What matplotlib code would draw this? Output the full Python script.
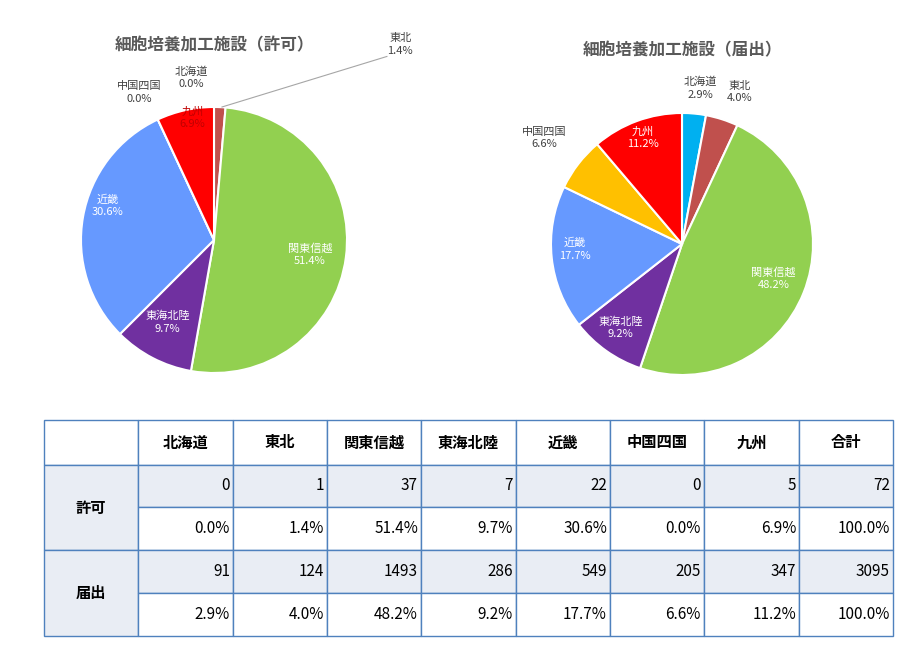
import matplotlib.pyplot as plt
from matplotlib.patches import Rectangle

plt.rcParams["font.family"] = ["Noto Sans CJK JP", "DejaVu Sans"]

regions = ["北海道", "東北", "関東信越", "東海北陸", "近畿", "中国四国", "九州"]
colors = ["#00b0f0", "#c0504d", "#92d050", "#7030a0", "#6699ff", "#ffc000", "#ff0000"]

kyoka_counts = [0, 1, 37, 7, 22, 0, 5]
kyoka_total = 72
kyoka_pct = ["0.0%", "1.4%", "51.4%", "9.7%", "30.6%", "0.0%", "6.9%"]
todoke_counts = [91, 124, 1493, 286, 549, 205, 347]
todoke_total = 3095
todoke_pct = ["2.9%", "4.0%", "48.2%", "9.2%", "17.7%", "6.6%", "11.2%"]

# label offsets in units of pie radius, and text colour
left_pos = [(-0.17, 1.22), (1.40, 1.47), (0.72, -0.11), (-0.35, -0.62),
            (-0.80, 0.26), (-0.56, 1.11), (-0.16, 0.92)]
left_col = ["#404040", "#404040", "white", "white", "white", "#404040", "#c00000"]
right_pos = [(0.14, 1.19), (0.44, 1.16), (0.70, -0.26), (-0.47, -0.64),
             (-0.82, -0.04), (-1.05, 0.81), (-0.30, 0.81)]
right_col = ["#404040", "#404040", "white", "white", "white", "#404040", "white"]

W, H = 917, 657
fig = plt.figure(figsize=(W / 100, H / 100), dpi=100)


def draw_pie(cx, cy, r, counts, pct, pos, tcol, title, ty):
    ax = fig.add_axes([(cx - r) / W, (H - cy - r) / H, 2 * r / W, 2 * r / H])
    ax.pie(counts, colors=colors, startangle=90, counterclock=False,
           wedgeprops=dict(edgecolor="white", linewidth=1.5))
    ax.set_xlim(-1, 1)
    ax.set_ylim(-1, 1)
    ax.set_aspect("auto")
    ax.axis("off")
    for name, p, (dx, dy), c in zip(regions, pct, pos, tcol):
        ax.text(dx, dy, f"{name}\n{p}", ha="center", va="center", fontsize=8,
                color=c, linespacing=1.3, clip_on=False)
    fig.text(cx / W, 1 - ty / H, title, ha="center", va="center",
             fontsize=12, fontweight="bold", color="#595959")
    return ax


axl = draw_pie(214, 240, 133, kyoka_counts, kyoka_pct, left_pos, left_col,
               "細胞培養加工施設（許可）", 45)
axl.plot([0.06, 1.30], [1.0, 1.38], color="#a6a6a6", lw=0.8, clip_on=False)
draw_pie(682, 244, 131, todoke_counts, todoke_pct, right_pos, right_col,
         "細胞培養加工施設（届出）", 50)

# table
tax = fig.add_axes([0, 0, 1, 1])
tax.set_xlim(0, W)
tax.set_ylim(H, 0)
tax.axis("off")
xs = [44, 138, 233, 327, 421, 516, 610, 704, 799, 893]
ys = [420, 465, 507, 550, 593, 636]
gray = "#e9edf4"
edge = "#4f81bd"

headers = regions + ["合計"]
rows = [
    [str(v) for v in kyoka_counts] + [str(kyoka_total)],
    kyoka_pct + ["100.0%"],
    [str(v) for v in todoke_counts] + [str(todoke_total)],
    todoke_pct + ["100.0%"],
]

for i in range(9):
    tax.add_patch(Rectangle((xs[i], ys[0]), xs[i + 1] - xs[i], ys[1] - ys[0],
                            facecolor="white", edgecolor=edge, lw=1))
    if i > 0:
        tax.text((xs[i] + xs[i + 1]) / 2, (ys[0] + ys[1]) / 2, headers[i - 1],
                 ha="center", va="center", fontsize=11, fontweight="bold")
for g, label in enumerate(["許可", "届出"]):
    y0, y1 = ys[1 + 2 * g], ys[3 + 2 * g]
    tax.add_patch(Rectangle((xs[0], y0), xs[1] - xs[0], y1 - y0,
                            facecolor=gray, edgecolor=edge, lw=1))
    tax.text((xs[0] + xs[1]) / 2, (y0 + y1) / 2, label, ha="center",
             va="center", fontsize=11, fontweight="bold")
for r, row in enumerate(rows):
    y0, y1 = ys[1 + r], ys[2 + r]
    fc = gray if r % 2 == 0 else "white"
    for i, val in enumerate(row):
        x0, x1 = xs[i + 1], xs[i + 2]
        tax.add_patch(Rectangle((x0, y0), x1 - x0, y1 - y0,
                                facecolor=fc, edgecolor=edge, lw=1))
        tax.text(x1 - 3, (y0 + y1) / 2, val, ha="right", va="center", fontsize=11)

fig.savefig("out.png", dpi=100)
